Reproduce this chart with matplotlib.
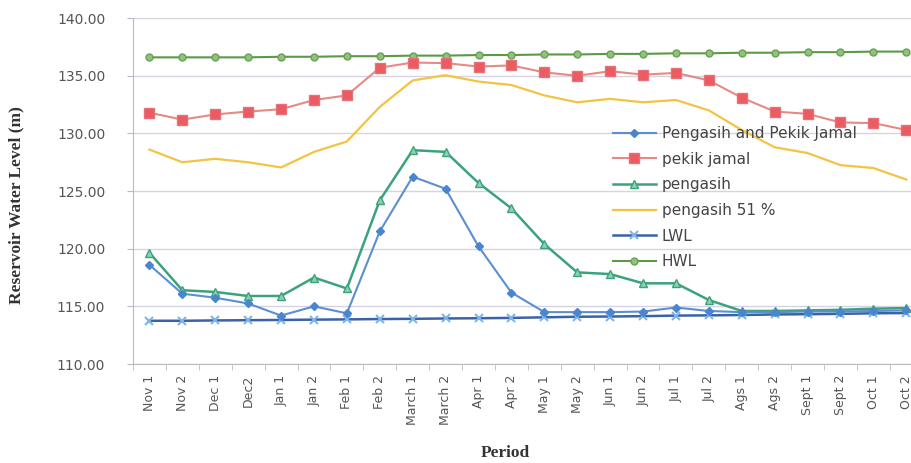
import matplotlib
matplotlib.use("Agg")
from matplotlib import pyplot as plt

periods = ["Nov 1", "Nov 2", "Dec 1", "Dec2", "Jan 1", "Jan 2", "Feb 1", "Feb 2",
           "March 1", "March 2", "Apr 1", "Apr 2", "May 1", "May 2", "Jun 1", "Jun 2",
           "Jul 1", "Jul 2", "Ags 1", "Ags 2", "Sept 1", "Sept 2", "Oct 1", "Oct 2"]

pengasih_pekik = [118.6, 116.1, 115.75, 115.25, 114.2, 115.0, 114.4, 121.5,
                  126.25, 125.2, 120.2, 116.2, 114.5, 114.5, 114.5, 114.55,
                  114.9, 114.6, 114.5, 114.5, 114.55, 114.55, 114.6, 114.65]
pekik_jamal = [131.8, 131.2, 131.65, 131.9, 132.1, 132.9, 133.3, 135.7,
               136.15, 136.1, 135.8, 135.9, 135.3, 135.0, 135.4, 135.1,
               135.25, 134.6, 133.1, 131.9, 131.7, 130.95, 130.9, 130.3]
pengasih = [119.65, 116.4, 116.25, 115.9, 115.9, 117.5, 116.55, 124.2,
            128.55, 128.4, 125.7, 123.5, 120.4, 117.95, 117.8, 117.0,
            117.0, 115.55, 114.6, 114.6, 114.65, 114.7, 114.8, 114.85]
pengasih_51 = [128.6, 127.5, 127.8, 127.5, 127.05, 128.4, 129.3, 132.3,
               134.6, 135.05, 134.5, 134.2, 133.3, 132.7, 133.0, 132.7,
               132.9, 132.0, 130.3, 128.8, 128.3, 127.25, 127.0, 126.0]
lwl = [113.75, 113.75, 113.78, 113.8, 113.82, 113.85, 113.87, 113.9,
       113.92, 113.95, 113.97, 114.0, 114.05, 114.1, 114.12, 114.15,
       114.2, 114.22, 114.25, 114.3, 114.32, 114.35, 114.4, 114.42]
hwl = [136.6, 136.6, 136.6, 136.6, 136.65, 136.65, 136.7, 136.7,
       136.75, 136.75, 136.8, 136.8, 136.85, 136.85, 136.9, 136.9,
       136.95, 136.95, 137.0, 137.0, 137.05, 137.05, 137.1, 137.1]

y_ticks = [110, 115, 120, 125, 130, 135, 140]

fig = plt.figure(figsize=(9.12, 4.63), dpi=100)
ax = fig.add_axes([0.1458, 0.2138, 0.866, 0.747])

x = list(range(len(periods)))

ax.plot(x, pengasih_pekik, color="#5b8fd0", lw=1.5, marker="D", ms=4,
        mfc="#4a86d0", mec="#4a86d0", label="Pengasih and Pekik Jamal", zorder=5)
ax.plot(x, pekik_jamal, color="#e58a84", lw=1.5, marker="s", ms=7,
        mfc="#ec5a62", mec="#e5727a", label="pekik jamal", zorder=4)
ax.plot(x, pengasih, color="#3aa37c", lw=1.8, marker="^", ms=6,
        mfc="#8fd0b0", mec="#3aa37c", label="pengasih", zorder=4)
ax.plot(x, pengasih_51, color="#f3c343", lw=1.6, label="pengasih 51 %", zorder=3)
ax.plot(x, lwl, color="#3b62a8", lw=1.8, marker="x", ms=6, mew=1.5,
        mec="#7fb4ea", label="LWL", zorder=3)
ax.plot(x, hwl, color="#5a9a46", lw=1.5, marker="o", ms=5,
        mfc="#8fc27a", mec="#6aa055", label="HWL", zorder=3)

ax.set_xlim(-0.5, len(periods) - 0.5)
ax.set_ylim(110, 140)
ax.set_yticks(y_ticks)
ax.set_yticklabels([f"{v:.2f}" for v in y_ticks], color="#555555", fontsize=10)
ax.set_xticks(x)
ax.set_xticklabels(periods, rotation=90, color="#555555", fontsize=9)
ax.tick_params(axis="x", length=0, pad=8)
ax.tick_params(axis="y", length=4, color="#bbbbbb", pad=16)
ax.set_xticks([i - 0.5 for i in range(len(periods) + 1)], minor=True)
ax.tick_params(axis="x", which="minor", length=4, color="#bbbbbb")

ax.grid(axis="y", color="#d4d4e4", lw=1)
ax.set_axisbelow(True)
for side in ["top", "right"]:
    ax.spines[side].set_visible(False)
ax.spines["left"].set_color("#bbbbbb")
ax.spines["bottom"].set_color("#bbbbbb")

ax.set_ylabel("Reservoir Water Level (m)", family="Liberation Serif",
              fontweight="bold", fontsize=12.5, color="#333333")
ax.yaxis.set_label_coords(-0.137, 0.46)
ax.set_xlabel("Period", family="Liberation Serif", fontweight="bold",
              fontsize=12.5, color="#333333")
ax.xaxis.set_label_coords(0.472, -0.234)

leg = ax.legend(loc="upper left", bbox_to_anchor=(0.672, 0.728),
                bbox_transform=fig.transFigure, frameon=False,
                fontsize=11, labelspacing=0.7, handlelength=2.8,
                handletextpad=0.4, borderpad=0, borderaxespad=0)
for t in leg.get_texts():
    t.set_color("#444444")

fig.savefig("out.png", dpi=100)
